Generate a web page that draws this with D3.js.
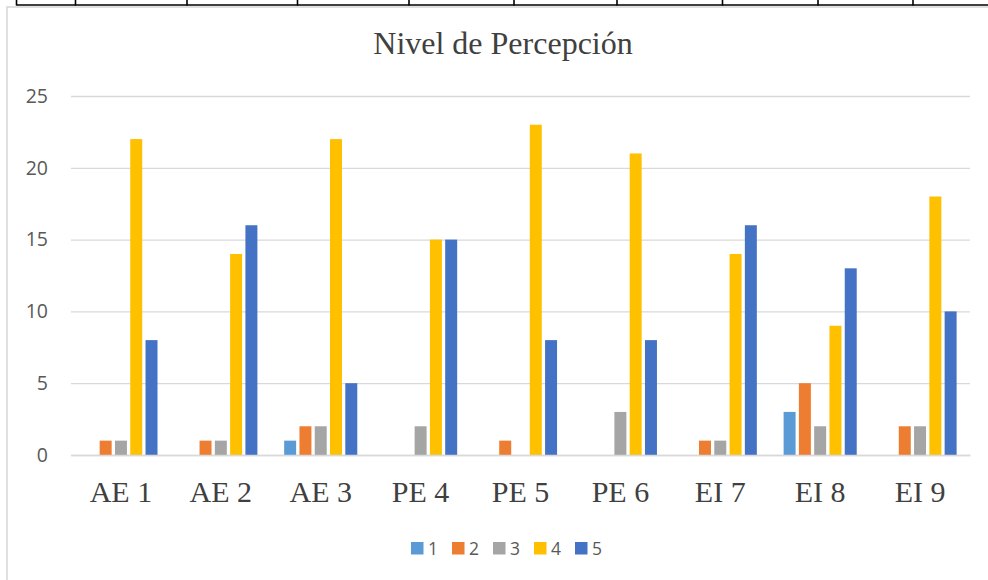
<!DOCTYPE html>
<html>
<head>
<meta charset="utf-8">
<script src="https://cdn.jsdelivr.net/npm/d3@7"></script>
<style>
  body { margin: 0; background: #fff; }
  svg { display: block; }
</style>
</head>
<body>
<div id="chart"></div>
<script>
var categories = ["AE 1", "AE 2", "AE 3", "PE 4", "PE 5", "PE 6", "EI 7", "EI 8", "EI 9"];
var seriesNames = ["1", "2", "3", "4", "5"];
var s1 = [0, 0, 1, 0, 0, 0, 0, 3, 0];
var s2 = [1, 1, 2, 0, 1, 0, 1, 5, 2];
var s3 = [1, 1, 2, 2, 0, 3, 1, 2, 2];
var s4 = [22, 14, 22, 15, 23, 21, 14, 9, 18];
var s5 = [8, 16, 5, 15, 8, 8, 16, 13, 10];
var yTicks = [0, 5, 10, 15, 20, 25];
var colors = ["#5B9BD5", "#ED7D31", "#A5A5A5", "#FFC000", "#4472C4"];
// column lines of the table above the chart
var tableCols = [16.5, 75.5, 187, 297.5, 409, 514, 617, 722.5, 818, 913];

var seriesValues = [s1, s2, s3, s4, s5];

var W = 988, H = 580,
    plot = { left: 71, right: 970, top: 96, bottom: 455 };

var svg = d3.select("#chart").append("svg")
    .attr("width", W)
    .attr("height", H);

// table fragment at top
svg.append("line")
    .attr("x1", 16.5).attr("x2", W)
    .attr("y1", 5).attr("y2", 5)
    .attr("stroke", "#000").attr("stroke-width", 1.6);
svg.selectAll("line.tcol")
    .data(tableCols)
    .enter().append("line")
    .attr("class", "tcol")
    .attr("x1", function(d) { return d; }).attr("x2", function(d) { return d; })
    .attr("y1", 0).attr("y2", 5.5)
    .attr("stroke", "#000").attr("stroke-width", 1.6);

// chart border
svg.append("rect")
    .attr("x", 7).attr("y", 7)
    .attr("width", 1100).attr("height", 700)
    .attr("fill", "none")
    .attr("stroke", "#d9d9d9")
    .attr("stroke-width", 1.6);

var x0 = d3.scaleBand()
    .domain(categories)
    .range([plot.left, plot.right])
    .paddingInner(0.268)
    .paddingOuter(0.134);

var x1 = d3.scaleBand()
    .domain(seriesNames)
    .range([0, x0.bandwidth()])
    .paddingInner(0.216);

var y = d3.scaleLinear()
    .domain([0, 25])
    .range([plot.bottom, plot.top]);

// gridlines
svg.append("g")
    .attr("transform", "translate(" + plot.left + ",0)")
    .call(d3.axisLeft(y).tickValues(yTicks).tickSize(-(plot.right - plot.left)).tickFormat(""))
    .call(function(g) {
        g.select(".domain").remove();
        g.selectAll("line").attr("stroke", "#d9d9d9").attr("stroke-width", 1.3);
    });

// y tick labels
svg.append("g")
    .attr("transform", "translate(48,0)")
    .call(d3.axisLeft(y).tickValues(yTicks).tickSize(0).tickPadding(0))
    .call(function(g) {
        g.select(".domain").remove();
        g.selectAll("text")
            .attr("fill", "#595959")
            .style("font-family", "'Open Sans', sans-serif")
            .style("font-size", "19.5px");
    });

// bars
var groups = svg.selectAll("g.cat")
    .data(categories)
    .enter().append("g")
    .attr("class", "cat")
    .attr("transform", function(d) { return "translate(" + x0(d) + ",0)"; });

groups.selectAll("rect")
    .data(function(d, i) {
        return seriesNames.map(function(s, j) {
            return { key: s, value: seriesValues[j][i], color: colors[j] };
        });
    })
    .enter().append("rect")
    .filter(function(d) { return d.value > 0; })
    .attr("x", function(d) { return x1(d.key); })
    .attr("width", x1.bandwidth())
    .attr("y", function(d) { return y(d.value); })
    .attr("height", function(d) { return y(0) - y(d.value); })
    .attr("fill", function(d) { return d.color; });

// x axis
svg.append("g")
    .attr("transform", "translate(0," + plot.bottom + ")")
    .call(d3.axisBottom(x0).tickSize(0).tickPadding(0))
    .call(function(g) {
        g.select(".domain").attr("stroke", "#d9d9d9").attr("stroke-width", 1.3);
        g.selectAll("text")
            .attr("y", 47)
            .attr("dy", 0)
            .attr("fill", "#404040")
            .style("font-family", "'Liberation Serif', 'Times New Roman', serif")
            .style("font-size", "30px");
    });

// title
svg.append("text")
    .attr("x", 503)
    .attr("y", 54)
    .attr("text-anchor", "middle")
    .attr("fill", "#404040")
    .style("font-family", "'Liberation Serif', 'Times New Roman', serif")
    .style("font-size", "32px")
    .text("Nivel de Percepción");

// legend
var legend = svg.selectAll("g.legend")
    .data(seriesNames)
    .enter().append("g")
    .attr("class", "legend")
    .attr("transform", function(d, i) { return "translate(" + (411 + i * 41) + ",542)"; });

legend.append("rect")
    .attr("width", 12.5)
    .attr("height", 12.5)
    .attr("fill", function(d, i) { return colors[i]; });

legend.append("text")
    .attr("x", 17)
    .attr("y", 13)
    .attr("fill", "#595959")
    .style("font-family", "'Open Sans', sans-serif")
    .style("font-size", "17.5px")
    .text(function(d) { return d; });
</script>
</body>
</html>
